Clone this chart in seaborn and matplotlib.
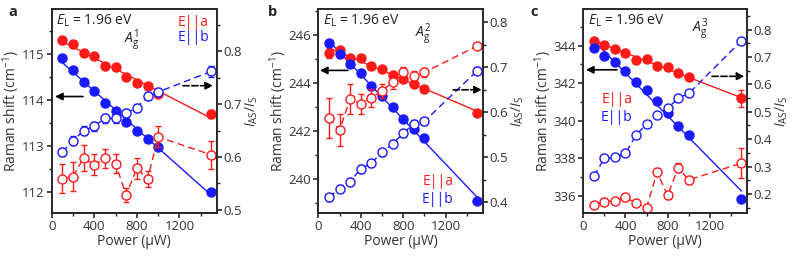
import numpy as np
import matplotlib
matplotlib.use('Agg')
import matplotlib.pyplot as plt
from matplotlib.ticker import MultipleLocator
import seaborn as sns

# ---- data ----
power = [100, 200, 300, 400, 500, 600, 700, 800, 900, 1000, 1500]

# panel a, A_g^1
a_shift_a = [115.29, 115.20, 115.02, 114.94, 114.74, 114.71, 114.49, 114.37, 114.29, 114.13, 113.69]
a_shift_a_err = [0.08, 0.07, 0.06, 0.05, 0.05, 0.05, 0.05, 0.06, 0.06, 0.05, 0.08]
a_shift_b = [114.90, 114.65, 114.38, 114.18, 113.92, 113.76, 113.51, 113.31, 113.14, 112.98, 112.00]
a_shift_b_err = [0.03] * 11
a_ratio_a = [0.559, 0.563, 0.598, 0.585, 0.598, 0.587, 0.528, 0.579, 0.558, 0.638, 0.604]
a_ratio_a_err = [0.028, 0.028, 0.024, 0.02, 0.018, 0.018, 0.013, 0.02, 0.015, 0.02, 0.027]
a_ratio_b = [0.609, 0.631, 0.650, 0.658, 0.673, 0.673, 0.683, 0.693, 0.715, 0.723, 0.762]
a_ratio_b_err = [0.008] * 10 + [0.01]

# panel b, A_g^2
b_shift_a = [245.25, 245.37, 245.06, 245.04, 244.72, 244.58, 244.34, 244.16, 243.95, 243.77, 242.76]
b_shift_a_err = [0.2, 0.1, 0.08, 0.06, 0.06, 0.05, 0.05, 0.05, 0.05, 0.05, 0.08]
b_shift_b = [245.69, 245.23, 244.79, 244.40, 243.88, 243.46, 243.00, 242.49, 242.10, 241.69, 239.07]
b_shift_b_err = [0.05] * 11
b_ratio_a = [0.588, 0.561, 0.630, 0.619, 0.633, 0.647, 0.668, 0.689, 0.682, 0.689, 0.748]
b_ratio_a_err = [0.045, 0.035, 0.033, 0.022, 0.02, 0.015, 0.015, 0.012, 0.01, 0.01, 0.007]
b_ratio_b = [0.411, 0.430, 0.446, 0.474, 0.487, 0.511, 0.530, 0.553, 0.575, 0.580, 0.693]
b_ratio_b_err = [0.008] * 11

# panel c, A_g^3
c_shift_a = [344.27, 344.05, 343.79, 343.61, 343.25, 343.29, 342.90, 342.84, 342.54, 342.31, 341.18]
c_shift_a_err = [0.08, 0.1, 0.08, 0.1, 0.1, 0.1, 0.1, 0.12, 0.1, 0.1, 0.45]
c_shift_b = [343.86, 343.46, 343.11, 342.66, 342.07, 341.64, 341.02, 340.43, 339.70, 339.25, 335.83]
c_shift_b_err = [0.05] * 11
c_ratio_a = [0.160, 0.172, 0.174, 0.187, 0.166, 0.150, 0.279, 0.194, 0.296, 0.251, 0.312]
c_ratio_a_err = [0.012, 0.012, 0.01, 0.012, 0.012, 0.012, 0.015, 0.014, 0.016, 0.016, 0.055]
c_ratio_b = [0.265, 0.330, 0.333, 0.348, 0.415, 0.455, 0.490, 0.513, 0.550, 0.567, 0.760]
c_ratio_b_err = [0.005] * 10 + [0.01]

panel_tags = ['a', 'b', 'c']
mode_labels = ['$A_{\\rm g}^{1}$', '$A_{\\rm g}^{2}$', '$A_{\\rm g}^{3}$']

RED = '#ff1a1a'
BLUE = '#1a1aff'
FS = 9.5

sns.set_theme(style='ticks')
plt.rcParams['font.family'] = ['Open Sans', 'DejaVu Sans']
plt.rcParams['mathtext.fontset'] = 'custom'
plt.rcParams['mathtext.rm'] = 'Open Sans'
plt.rcParams['mathtext.it'] = 'Open Sans:italic'
plt.rcParams['font.size'] = FS
plt.rcParams['axes.linewidth'] = 1.1
plt.rcParams['xtick.major.size'] = 3.5
plt.rcParams['ytick.major.size'] = 3.5
plt.rcParams['xtick.minor.size'] = 2
plt.rcParams['ytick.minor.size'] = 2

fig = plt.figure(figsize=(7.92, 2.57), dpi=100)

# per-panel layout / axis settings
lefts = [51.7, 318.3, 583.3]
widths = [165, 164.4, 163.4]
left_lims = [(111.54, 115.97), (238.58, 247.09), (335.07, 345.95)]
left_major = [1, 2, 2]
left_minor = [0.5, 1, 1]
right_lims = [(0.494, 0.880), (0.376, 0.830), (0.130, 0.876)]
shifts = [(a_shift_a, a_shift_a_err, a_shift_b, a_shift_b_err),
          (b_shift_a, b_shift_a_err, b_shift_b, b_shift_b_err),
          (c_shift_a, c_shift_a_err, c_shift_b, c_shift_b_err)]
ratios = [(a_ratio_a, a_ratio_a_err, a_ratio_b, a_ratio_b_err),
          (b_ratio_a, b_ratio_a_err, b_ratio_b, b_ratio_b_err),
          (c_ratio_a, c_ratio_a_err, c_ratio_b, c_ratio_b_err)]
mode_pos = [(0.485, 0.85), (0.637, 0.875), (0.714, 0.9)]
leg_pos = [(0.857, 0.933, 0.86), (0.728, 0.153, 0.065), (0.206, 0.555, 0.467)]
solid_arrow = [(0.19, 0.02, 0.571), (0.18, 0.01, 0.699), (0.206, 0.016, 0.702)]
dashed_arrow = [(0.796, 0.978, 0.624), (0.82, 0.995, 0.604), (0.788, 0.986, 0.67)]
tag_x = [8, 268, 530]

for i in range(3):
    ax = fig.add_axes([lefts[i] / 792, 44 / 257, widths[i] / 792, 204 / 257])
    ax2 = ax.twinx()
    ya, ya_err, yb, yb_err = shifts[i]
    ra, ra_err, rb, rb_err = ratios[i]

    # linear fits through the filled points
    sns.regplot(x=power, y=ya, ax=ax, scatter=False, ci=None, truncate=True,
                line_kws=dict(color=RED, lw=1.0))
    sns.regplot(x=power, y=yb, ax=ax, scatter=False, ci=None, truncate=True,
                line_kws=dict(color=BLUE, lw=1.0))
    ax.errorbar(power, ya, yerr=ya_err, fmt='o', color=RED, ms=6.5, capsize=2, elinewidth=1)
    ax.errorbar(power, yb, yerr=yb_err, fmt='o', color=BLUE, ms=6.5, capsize=2, elinewidth=1)

    # anti-Stokes/Stokes ratio, dashed
    sns.lineplot(x=power, y=ra, ax=ax2, color=RED, lw=1.0, linestyle=(0, (5, 3)))
    sns.lineplot(x=power, y=rb, ax=ax2, color=BLUE, lw=1.0, linestyle=(0, (5, 3)))
    ax2.errorbar(power, ra, yerr=ra_err, fmt='o', color=RED, mfc='white', ms=6.5,
                 mew=1, capsize=2, elinewidth=1)
    ax2.errorbar(power, rb, yerr=rb_err, fmt='o', color=BLUE, mfc='white', ms=6.5,
                 mew=1, capsize=2, elinewidth=1)

    ax.set_xlim(0, 1550)
    ax.set_ylim(*left_lims[i])
    ax2.set_ylim(*right_lims[i])
    ax.xaxis.set_major_locator(MultipleLocator(400))
    ax.xaxis.set_minor_locator(MultipleLocator(200))
    ax.yaxis.set_major_locator(MultipleLocator(left_major[i]))
    ax.yaxis.set_minor_locator(MultipleLocator(left_minor[i]))
    ax2.yaxis.set_major_locator(MultipleLocator(0.1))
    ax2.yaxis.set_minor_locator(MultipleLocator(0.05))
    ax2.yaxis.set_major_formatter(plt.FormatStrFormatter('%.1f'))
    for a in (ax, ax2):
        a.tick_params(labelsize=FS, pad=1.5, colors='#333333', labelcolor='#333333')
        for s in a.spines.values():
            s.set_color('#222222')

    ax.set_xlabel('Power (μW)', fontsize=FS + 0.5, labelpad=1, color='#333333')
    ax.set_ylabel('Raman shift (cm$^{-1}$)', fontsize=FS + 0.5, labelpad=0, color='#333333')
    ax2.set_ylabel('$I_{\\rm AS}/I_{\\rm S}$', fontsize=FS + 0.5, labelpad=1, color='#333333')

    ax.text(0.026, 0.94, '$E_{\\rm L}$ = 1.96 eV', transform=ax.transAxes,
            ha='left', va='center', fontsize=FS + 0.5, color='#222222')
    ax.text(*mode_pos[i], mode_labels[i], transform=ax.transAxes,
            ha='center', va='center', fontsize=FS + 0.5, color='#222222')
    lx, ly1, ly2 = leg_pos[i]
    ax.text(lx, ly1, 'E||a', transform=ax.transAxes, ha='center', va='center',
            fontsize=FS + 0.5, color=RED)
    ax.text(lx, ly2, 'E||b', transform=ax.transAxes, ha='center', va='center',
            fontsize=FS + 0.5, color=BLUE)

    x0, x1, yy = solid_arrow[i]
    ax2.annotate('', xy=(x1, yy), xytext=(x0, yy), xycoords='axes fraction',
                 arrowprops=dict(arrowstyle='-|>', color='black', lw=1.2,
                                 mutation_scale=11, shrinkA=0, shrinkB=0))
    x0, x1, yy = dashed_arrow[i]
    ax2.annotate('', xy=(x1, yy), xytext=(x0, yy), xycoords='axes fraction',
                 arrowprops=dict(arrowstyle='-|>', color='black', lw=1.2, ls='--',
                                 mutation_scale=11, shrinkA=0, shrinkB=0))

    fig.text(tag_x[i] / 792, 1 - 12 / 257, panel_tags[i], fontsize=FS + 1,
             fontweight='bold', ha='left', va='center')

fig.savefig('out.png', dpi=100)
